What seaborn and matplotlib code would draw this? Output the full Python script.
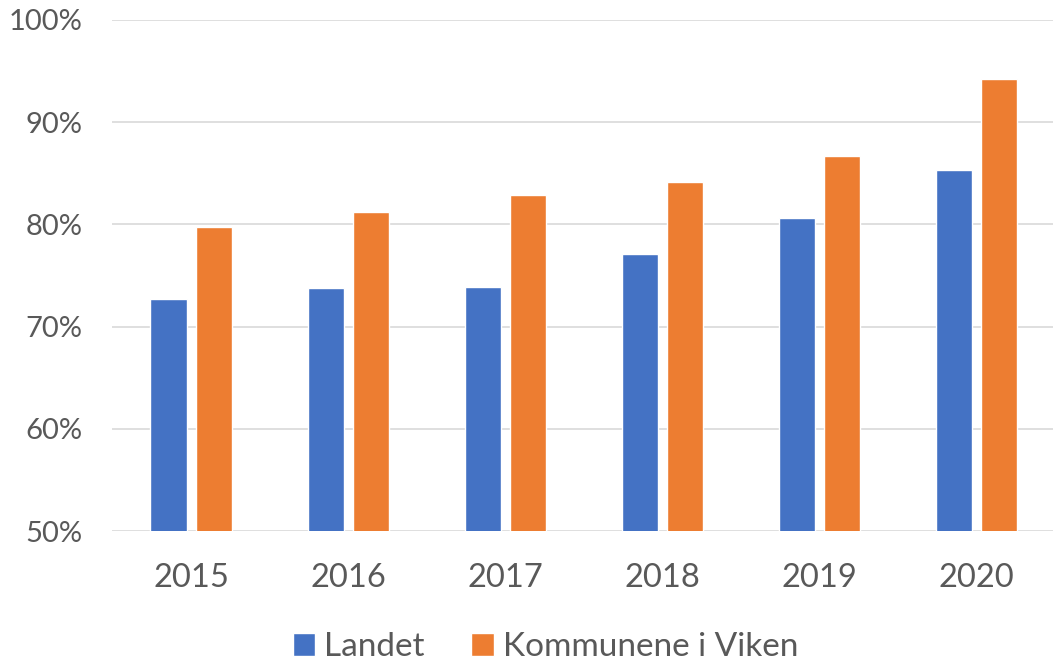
import matplotlib
matplotlib.use("Agg")
import matplotlib.pyplot as plt
import seaborn as sns
import pandas as pd
from matplotlib.ticker import FuncFormatter

years = ["2015", "2016", "2017", "2018", "2019", "2020"]
landet = [72.7, 73.8, 73.9, 77.1, 80.6, 85.3]
viken = [79.7, 81.2, 82.9, 84.1, 86.7, 94.2]
series = ["Landet", "Kommunene i Viken"]
colors = ["#4472C4", "#ED7D31"]

df = pd.DataFrame({
    "year": years * 2,
    "value": landet + viken,
    "series": [series[0]] * len(years) + [series[1]] * len(years),
})

sns.set_theme(style="white")
plt.rcParams['font.family'] = ['Lato', 'DejaVu Sans']

fig = plt.figure(figsize=(10.53, 6.65), dpi=100)
ax = fig.add_axes([0.1068, 0.2015, 0.8955, 0.7685])

sns.barplot(data=df, x="year", y="value", hue="series", palette=colors,
            width=0.574, gap=0.2, ax=ax, saturation=1)

ax.set_ylim(50, 100)
ax.set_yticks([50, 60, 70, 80, 90, 100])
ax.yaxis.set_major_formatter(FuncFormatter(lambda v, p: f"{int(v)}%"))
ax.grid(axis="y", color="#D9D9D9", linewidth=1.2)
ax.set_axisbelow(True)
for s in ax.spines.values():
    s.set_visible(False)
ax.set_xlabel("")
ax.set_ylabel("")
ax.tick_params(axis="y", labelsize=21, labelcolor="#595959", length=0, pad=21.5)
ax.tick_params(axis="x", labelsize=23.5, labelcolor="#595959", length=0, pad=23)
for lbl in ax.get_yticklabels():
    lbl.set_horizontalalignment("right")

ax.legend_.remove()
handles, labels = ax.get_legend_handles_labels()
fig.legend(handles, labels, loc="center", bbox_to_anchor=(0.518, 0.027), ncol=2,
           frameon=False, fontsize=24, labelcolor="#595959", handlelength=0.67,
           handleheight=0.67, handletextpad=0.27, columnspacing=1.4,
           borderpad=0, borderaxespad=0)

fig.savefig("out.png", dpi=100)
